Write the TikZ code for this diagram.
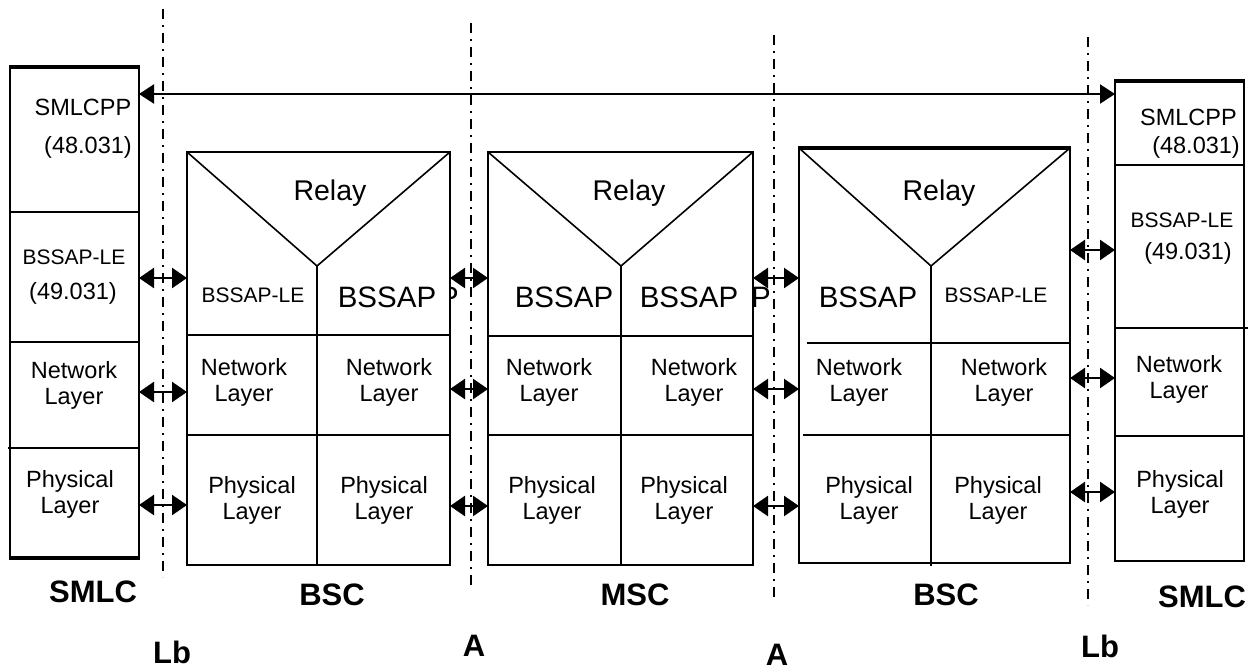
\documentclass[tikz,border=0pt]{standalone}
\usepackage{fontspec}
\setmainfont{Liberation Sans}
\usetikzlibrary{arrows.meta}
\begin{document}
\begin{tikzpicture}[x=1pt,y=-1pt,
 box/.style={draw, line width=2.2pt, fill=white},
 sep/.style={line width=1.6pt},
 iface/.style={line width=2.2pt, dash pattern=on 10pt off 6pt on 2pt off 6pt},
 bi/.style={line width=2.4pt, {Triangle[length=15pt,width=20pt]}-{Triangle[length=15pt,width=20pt]}},
 t/.style={inner sep=0pt, align=center, font=\fontsize{23.5}{26}\selectfont},
 ts/.style={inner sep=0pt, font=\fontsize{21}{24}\selectfont},
 tb/.style={inner sep=0pt, font=\fontsize{29.5}{32}\selectfont},
 tr/.style={inner sep=0pt, font=\fontsize{28.5}{32}\selectfont},
 lab/.style={inner sep=0pt, font=\fontsize{31}{34}\selectfont\bfseries}]
\useasboundingbox (0,0) rectangle (1255,670);

% stray glyph fragments
\node[tb] (frag1) at (449,297) {P};

% interface lines
\draw[iface] (163,9) -- (163,577);
\draw[iface] (471,23) -- (471,590);
\draw[iface] (774,35) -- (774,602);
\draw[iface] (1088,37) -- (1088,605);

% left SMLC
\draw[box] (10,67) rectangle (139,558);
\draw[line width=3.2pt] (9,67) -- (140,67);
\draw[line width=3.2pt] (9,558) -- (140,558);
\draw[sep] (10,212) -- (139,212);
\draw[sep] (10,342) -- (139,342);
\draw[sep] (8,448) -- (139,448);
\node[t] (sl1) at (83,107) {SMLCPP};
\node[t] (sl2) at (88,147) {(48.031)};
\node[ts] (sl3) at (74,257) {BSSAP-LE};
\node[t] (sl4) at (73,293) {(49.031)};
\node[t] (sl5) at (74,385) {Network\\Layer};
\node[t] (sl6) at (70,494) {Physical\\Layer};

% BSC 1
\draw[box] (187,152) rectangle (450,565);
\draw[sep] (187,152) -- (317,266) -- (450,152);
\draw[sep] (317,266) -- (317,565);
\draw[sep] (187,335) -- (450,335);
\draw[sep] (187,435) -- (450,435);
\node[tr] (b1r) at (330,193) {Relay};
\node[ts] (b1a) at (253,295) {BSSAP-LE};
\node[tb] (b1b) at (387,297) {BSSAP};
\node[t] (b1c) at (244,382) {Network\\Layer};
\node[t] (b1d) at (389,382) {Network\\Layer};
\node[t] (b1e) at (252,500) {Physical\\Layer};
\node[t] (b1f) at (384,500) {Physical\\Layer};

% MSC
\draw[box] (488,152) rectangle (753,565);
\draw[sep] (488,152) -- (621,266) -- (753,152);
\draw[sep] (621,266) -- (621,565);
\draw[sep] (488,336) -- (753,336);
\draw[sep] (488,435) -- (753,435);
\node[tr] (mr) at (629,193) {Relay};
\node[tb] (ma) at (564,297) {BSSAP};
\node[tb] (mb) at (689,297) {BSSAP};
\node[t] (mc) at (549,382) {Network\\Layer};
\node[t] (md) at (694,382) {Network\\Layer};
\node[t] (me) at (552,500) {Physical\\Layer};
\node[t] (mf) at (684,500) {Physical\\Layer};
\node[tb] (frag2) at (761,297) {P};

% BSC 2
\draw[box] (799,148) rectangle (1070,563);
\draw[line width=3.2pt] (798,148) -- (1071,148);
\draw[sep] (799,148) -- (931,266) -- (1070,148);
\draw[sep] (931,266) -- (931,566);
\draw[sep] (807,343) -- (1070,343);
\draw[sep] (803,435) -- (1070,435);
\node[tr] (b2r) at (939,193) {Relay};
\node[tb] (b2a) at (868,297) {BSSAP};
\node[ts] (b2b) at (996,295) {BSSAP-LE};
\node[t] (b2c) at (859,382) {Network\\Layer};
\node[t] (b2d) at (1004,382) {Network\\Layer};
\node[t] (b2e) at (869,500) {Physical\\Layer};
\node[t] (b2f) at (998,500) {Physical\\Layer};

% right SMLC
\draw[box] (1115,81) rectangle (1244,561);
\draw[line width=3.2pt] (1114,81) -- (1245,81);
\draw[sep] (1115,165) -- (1244,165);
\draw[sep] (1115,328) -- (1248,328);
\draw[sep] (1115,436) -- (1244,436);
\node[t, anchor=east] (sr1) at (1237,117) {SMLCPP};
\node[t, anchor=east] (sr2) at (1240,147) {(48.031)};
\node[ts] (sr3) at (1182,220) {BSSAP-LE};
\node[t] (sr4) at (1188,253) {(49.031)};
\node[t] (sr5) at (1179,379) {Network\\Layer};
\node[t] (sr6) at (1180,494) {Physical\\Layer};

% labels
\node[lab] (n1) at (93,592) {SMLC};
\node[lab] (n2) at (332,595) {BSC};
\node[lab] (n3) at (635,595) {MSC};
\node[lab] (n4) at (946,595) {BSC};
\node[lab] (n5) at (1202,597) {SMLC};
\node[lab] (i1) at (172,652) {Lb};
\node[lab] (i2) at (474,646) {A};
\node[lab] (i3) at (777,655) {A};
\node[lab] (i4) at (1100,646) {Lb};

% arrow end points
\coordinate (p0a) at (139,94);   \coordinate (p0b) at (1115,94);
\coordinate (l1a) at (139,278);  \coordinate (l1b) at (187,278);
\coordinate (l2a) at (139,392);  \coordinate (l2b) at (187,392);
\coordinate (l3a) at (139,505);  \coordinate (l3b) at (187,505);
\coordinate (a1a) at (450,278);  \coordinate (a1b) at (488,278);
\coordinate (a2a) at (450,389);  \coordinate (a2b) at (488,389);
\coordinate (a3a) at (450,506);  \coordinate (a3b) at (488,506);
\coordinate (c1a) at (753,278);  \coordinate (c1b) at (799,278);
\coordinate (c2a) at (753,389);  \coordinate (c2b) at (799,389);
\coordinate (c3a) at (753,506);  \coordinate (c3b) at (799,506);
\coordinate (r1a) at (1070,250); \coordinate (r1b) at (1115,250);
\coordinate (r2a) at (1070,378); \coordinate (r2b) at (1115,378);
\coordinate (r3a) at (1070,492); \coordinate (r3b) at (1115,492);

\draw[line width=2.2pt, {Triangle[length=15pt,width=19pt]}-{Triangle[length=15pt,width=19pt]}] (p0a) -- (p0b);
\foreach \a in {l1,l2,l3,a1,a2,a3,c1,c2,c3,r1,r2,r3}
  \draw[bi] (\a a) -- (\a b);
\end{tikzpicture}
\end{document}
